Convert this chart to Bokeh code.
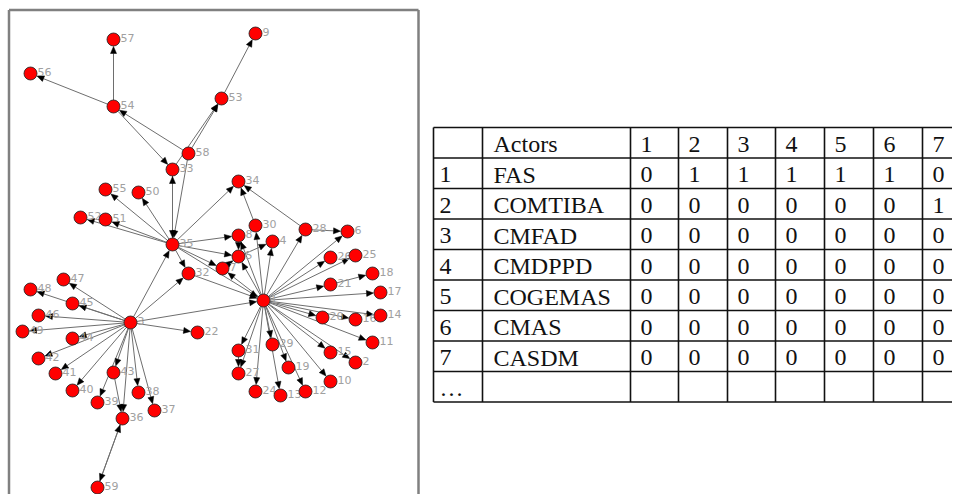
import numpy as np
from bokeh.plotting import figure
from bokeh.models import Range1d
from bokeh.core.properties import value
from bokeh.embed import file_html
from bokeh.resources import INLINE

# ---------------- network data (node layout) ----------------
node_ids = [1, 2, 3, 4, 5, 6, 7, 8, 9, 10,
            11, 12, 13, 14, 15, 16, 17, 18, 19, 20,
            21, 22, 24, 25, 26, 27, 28, 29, 30, 31,
            32, 33, 34, 35, 36, 37, 38, 39, 40, 41,
            42, 43, 44, 45, 46, 47, 48, 49, 50, 51,
            52, 53, 54, 55, 56, 57, 58, 59]
node_x = [263, 355, 130, 272, 238, 347, 222, 238, 255, 330,
          372, 305, 280, 380, 330, 355, 380, 372, 288, 322,
          330, 197, 255, 355, 330, 238, 305, 272, 255, 238,
          188, 172, 238, 172, 122, 154, 138, 97, 72, 55,
          38, 113, 72, 72, 38, 63, 30, 22, 138, 105,
          80, 221, 113, 105, 30, 113, 188, 97]
node_y = [300, 362, 322, 241, 256, 231, 268, 235, 33, 381,
          342, 391, 395, 315, 352, 319, 292, 273, 367, 317,
          284, 332, 391, 255, 257, 373, 229, 344, 225, 350,
          273, 169, 181, 244, 418, 410, 392, 402, 390, 373,
          358, 372, 338, 303, 315, 279, 289, 331, 192, 219,
          217, 98, 106, 189, 73, 39, 153, 487]

edge_src = [54, 54, 58, 54, 58, 33, 53, 33, 35, 58,
            35, 35, 35, 35, 3, 35, 35, 35, 35, 35,
            35, 3, 3, 32, 28, 28, 1, 1, 30, 1,
            1, 1, 1, 5, 8, 7, 1, 1, 1, 1,
            21, 1, 1, 1, 1, 1, 1, 1, 1, 1,
            1, 1, 1, 1, 1, 31, 1, 3, 3, 3,
            3, 3, 3, 3, 3, 3, 3, 3, 3, 43,
            3, 3, 3, 36, 59, 3]
edge_dst = [57, 56, 54, 33, 53, 53, 9, 35, 33, 35,
            55, 50, 52, 51, 35, 34, 8, 5, 7, 1,
            32, 32, 1, 1, 34, 6, 28, 30, 34, 4,
            8, 5, 7, 4, 5, 5, 6, 26, 25, 21,
            18, 17, 20, 16, 14, 11, 2, 15, 10, 12,
            19, 13, 24, 29, 31, 27, 27, 47, 48, 45,
            46, 49, 44, 42, 41, 40, 39, 43, 36, 36,
            38, 37, 22, 59, 36, 3]

# ---------------- adjacency table data ----------------
header = ["", "Actors", "1", "2", "3", "4", "5", "6", "7"]
row_ids = ["1", "2", "3", "4", "5", "6", "7", "\u2026"]
actors = ["FAS", "COMTIBA", "CMFAD", "CMDPPD", "COGEMAS", "CMAS", "CASDM", ""]
ties = [
    [0, 1, 1, 1, 1, 1, 0],
    [0, 0, 0, 0, 0, 0, 1],
    [0, 0, 0, 0, 0, 0, 0],
    [0, 0, 0, 0, 0, 0, 0],
    [0, 0, 0, 0, 0, 0, 0],
    [0, 0, 0, 0, 0, 0, 0],
    [0, 0, 0, 0, 0, 0, 0],
    None,
]

# ---------------- layout constants ----------------
W, H = 952, 494
NODE_R = 6.5
HEAD_L, HEAD_W = 7.0, 3.0
col_edges = [433, 482, 630, 678, 727, 775, 824, 873, 922, 971]
row_top = 127
row_h = 30.5
n_rows = len(row_ids) + 1
col_pad = [6, 11, 10, 10, 10, 10, 10, 10, 10]

p = figure(width=W, height=H, x_range=Range1d(0, W), y_range=Range1d(H, 0),
           output_backend="svg", toolbar_location=None, min_border=0,
           x_axis_location=None, y_axis_location=None)
p.grid.visible = False
p.outline_line_color = None
p.background_fill_color = "white"
p.border_fill_color = "white"

# ---- graph panel frame ----
p.segment(x0=[8.5, 8.5, 418], y0=[9.5, 9.5, 9.5], x1=[8.5, 418, 418], y1=[520, 9.5, 520],
          line_color="#808080", line_width=2.5)

# ---- edges and arrowheads ----
pos = {n: (x, y) for n, x, y in zip(node_ids, node_x, node_y)}
xs0, ys0, xs1, ys1, hx, hy = [], [], [], [], [], []
for s, d in zip(edge_src, edge_dst):
    sx, sy = pos[s]
    dx, dy = pos[d]
    L = np.hypot(dx - sx, dy - sy)
    ux, uy = (dx - sx) / L, (dy - sy) / L
    tipx, tipy = dx - ux * (NODE_R + 0.5), dy - uy * (NODE_R + 0.5)
    bx, by = tipx - ux * HEAD_L, tipy - uy * HEAD_L
    xs0.append(sx + ux * NODE_R)
    ys0.append(sy + uy * NODE_R)
    xs1.append(bx)
    ys1.append(by)
    hx.append([tipx, bx - uy * HEAD_W, bx + uy * HEAD_W])
    hy.append([tipy, by + ux * HEAD_W, by - ux * HEAD_W])
p.segment(x0=xs0, y0=ys0, x1=xs1, y1=ys1, line_color="#6e6e6e", line_width=1)
p.patches(xs=hx, ys=hy, fill_color="black", line_color="black", line_width=0.5)

# ---- labels ----
p.text(x=node_x, y=node_y, text=[str(n) for n in node_ids], x_offset=7, y_offset=-2,
       text_font=value("DejaVu Sans"), text_font_size="11px", text_color="#a0a0a0",
       text_baseline="middle", text_align="left")

# ---- nodes ----
p.scatter(x=node_x, y=node_y, size=2 * NODE_R, fill_color="#ff0000",
          line_color="#1a1a1a", line_width=0.8)

# ---- table grid ----
row_edges = [row_top + i * row_h for i in range(n_rows + 1)]
gx0 = [c for c in col_edges] + [col_edges[0]] * len(row_edges)
gx1 = [c for c in col_edges] + [col_edges[-1]] * len(row_edges)
gy0 = [row_edges[0]] * len(col_edges) + row_edges
gy1 = [row_edges[-1]] * len(col_edges) + row_edges
p.segment(x0=gx0, y0=gy0, x1=gx1, y1=gy1, line_color="#111111", line_width=1.6)

# ---- table text ----
tx, ty, tt = [], [], []
mid = row_h / 2 + 1.5
for j, h in enumerate(header):
    if h:
        tx.append(col_edges[j] + col_pad[j]); ty.append(row_edges[0] + mid); tt.append(h)
for i, rid in enumerate(row_ids):
    yb = row_edges[i + 1] + mid
    tx.append(col_edges[0] + col_pad[0]); ty.append(yb); tt.append(rid)
    if actors[i]:
        tx.append(col_edges[1] + col_pad[1]); ty.append(yb); tt.append(actors[i])
    if ties[i] is not None:
        for k, v in enumerate(ties[i]):
            tx.append(col_edges[k + 2] + col_pad[k + 2]); ty.append(yb); tt.append(str(v))
p.text(x=tx, y=ty, text=tt, text_font=value("Liberation Serif"), text_font_size="24px",
       text_color="#111111", text_baseline="middle", text_align="left")

open("out.html", "w").write(file_html(p, INLINE))
